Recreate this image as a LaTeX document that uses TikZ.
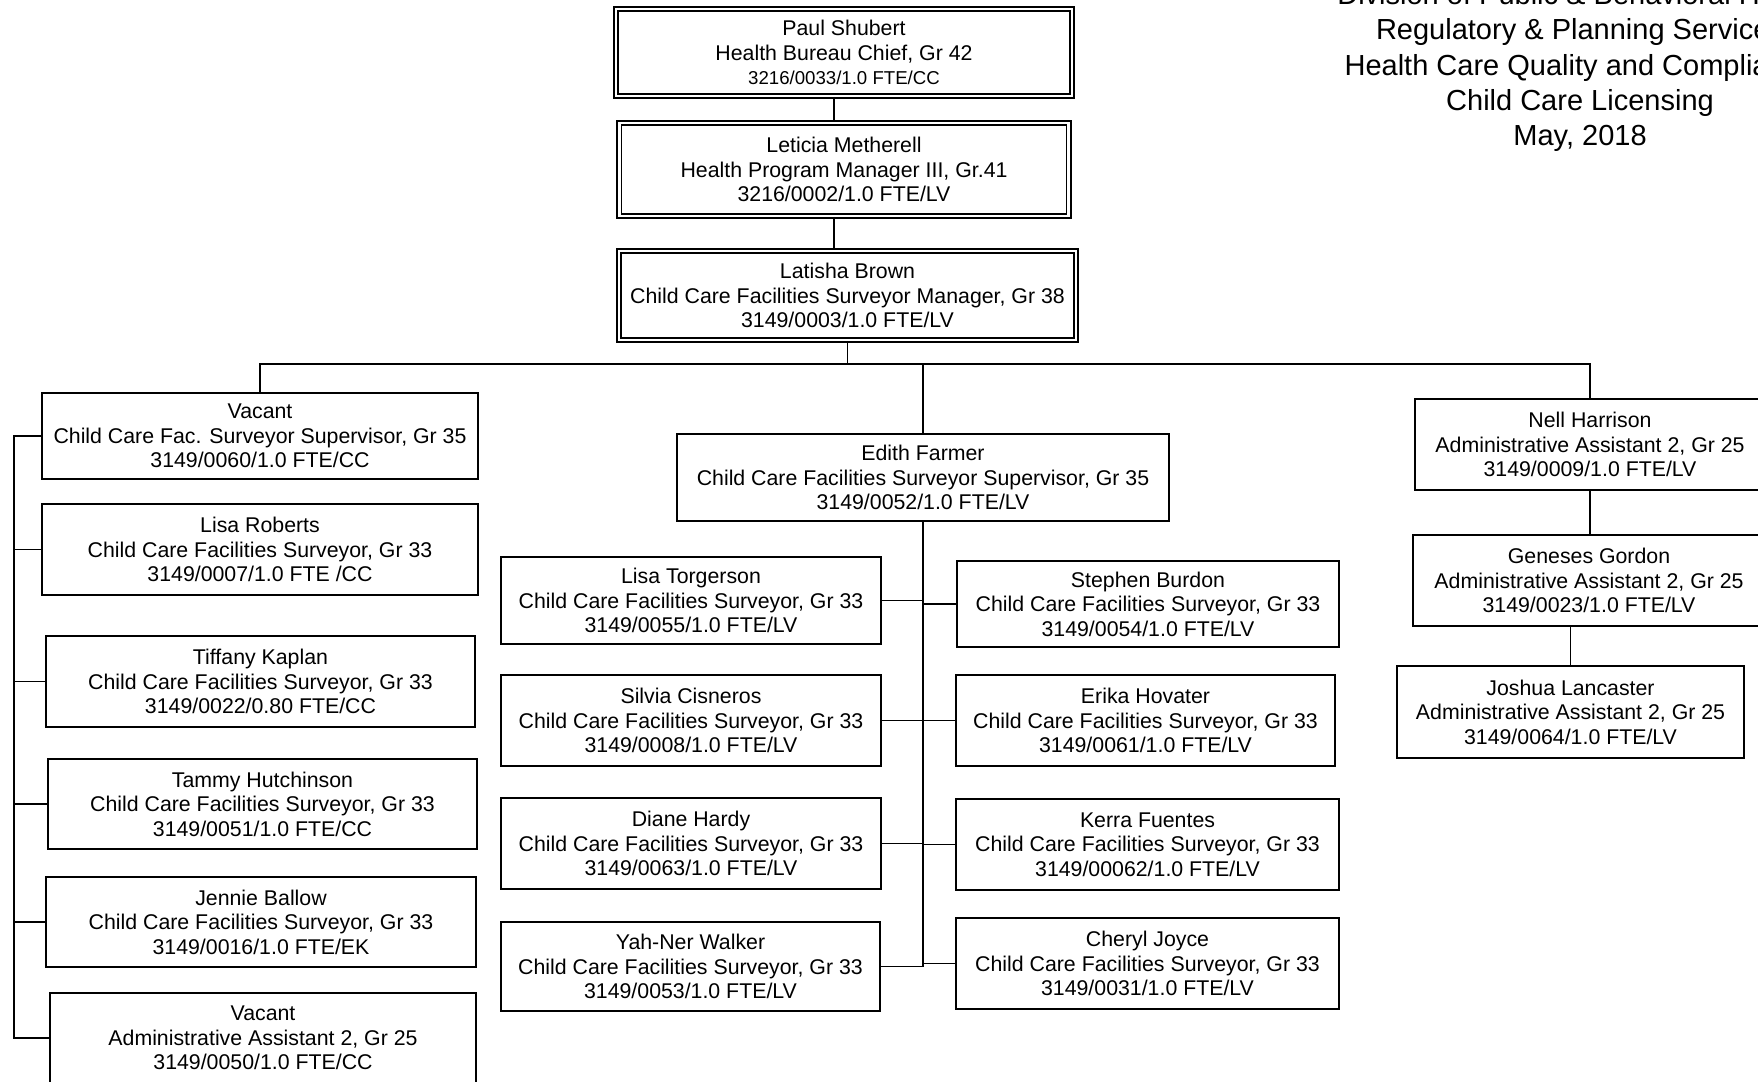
\documentclass[tikz,border=0pt]{standalone}
\usepackage{fontspec}
\setmainfont{Liberation Sans}
\usetikzlibrary{calc}

\tikzset{
	box/.style={draw, line width=0.55pt, align=center, inner sep=0pt, font=\fontsize{6.06}{6.97}\selectfont},
	dbox/.style={box, double, double distance=0.75pt, line width=0.45pt},
	link/.style={line width=0.55pt},
}
\newcommand{\posno}[1]{{\fontsize{5.3}{6.97}\selectfont #1}}

\begin{document}
\begin{tikzpicture}[x=0.01cm, y=-0.01cm]
	
		\useasboundingbox (0,0) rectangle (1758,1081);
		\clip (0,0) rectangle (1758,1081);
		
		\node[align=center, font=\fontsize{8.25}{9.96}\selectfont] (title) at (1580,67.5) {Division of Public \& Behavioral Health\\Regulatory \& Planning Services\\Health Care Quality and Compliance\\Child Care Licensing\\May, 2018};
		
		\node[dbox, minimum width=4.56cm, minimum height=0.87cm] (paul) at (844,52.5) 	{Paul Shubert\\Health Bureau Chief, Gr 42\\\posno{3216/0033/1.0 FTE/CC}};
		\node[dbox, minimum width=4.49cm, minimum height=0.93cm] (leticia) at (844,169.5) 	{Leticia Metherell\\Health Program Manager III, Gr.41\\3216/0002/1.0 FTE/LV};
		\node[dbox, minimum width=4.57cm, minimum height=0.89cm] (latisha) at (847.5,295.5) 	{Latisha Brown\\Child Care Facilities Surveyor Manager, Gr 38\\3149/0003/1.0 FTE/LV};
		
		% left column
		\node[box, minimum width=4.36cm, minimum height=0.86cm] (vacsup) at (260,436) 	{Vacant\\Child Care Fac. Surveyor Supervisor, Gr 35\\3149/0060/1.0 FTE/CC};
		\node[box, minimum width=4.36cm, minimum height=0.91cm] (roberts) at (260,549.5) 	{Lisa Roberts\\Child Care Facilities Surveyor, Gr 33\\3149/0007/1.0 FTE /CC};
		\node[box, minimum width=4.29cm, minimum height=0.91cm] (kaplan) at (260.5,681.5) 	{Tiffany Kaplan\\Child Care Facilities Surveyor, Gr 33\\3149/0022/0.80 FTE/CC};
		\node[box, minimum width=4.29cm, minimum height=0.90cm] (hutchinson) at (262.5,804) 	{Tammy Hutchinson\\Child Care Facilities Surveyor, Gr 33\\3149/0051/1.0 FTE/CC};
		\node[box, minimum width=4.30cm, minimum height=0.90cm] (ballow) at (261,922) 	{Jennie Ballow\\Child Care Facilities Surveyor, Gr 33\\3149/0016/1.0 FTE/EK};
		\node[box, minimum width=4.26cm, minimum height=0.90cm] (vacadmin) at (263,1038) 	{Vacant\\Administrative Assistant 2, Gr 25\\3149/0050/1.0 FTE/CC};
		
		% centre
		\node[box, minimum width=4.92cm, minimum height=0.87cm] (edith) at (923,477.5) 	{Edith Farmer\\Child Care Facilities Surveyor Supervisor, Gr 35\\3149/0052/1.0 FTE/LV};
		\node[box, minimum width=3.80cm, minimum height=0.87cm] (torgerson) at (691,600.5) 	{Lisa Torgerson\\Child Care Facilities Surveyor, Gr 33\\3149/0055/1.0 FTE/LV};
		\node[box, minimum width=3.80cm, minimum height=0.91cm] (cisneros) at (691,720.5) 	{Silvia Cisneros\\Child Care Facilities Surveyor, Gr 33\\3149/0008/1.0 FTE/LV};
		\node[box, minimum width=3.80cm, minimum height=0.91cm] (hardy) at (691,843.5) 	{Diane Hardy\\Child Care Facilities Surveyor, Gr 33\\3149/0063/1.0 FTE/LV};
		\node[box, minimum width=3.79cm, minimum height=0.89cm] (walker) at (690.5,966.5) 	{Yah-Ner Walker\\Child Care Facilities Surveyor, Gr 33\\3149/0053/1.0 FTE/LV};
		\node[box, minimum width=3.81cm, minimum height=0.86cm] (burdon) at (1148,604) 	{Stephen Burdon\\Child Care Facilities Surveyor, Gr 33\\3149/0054/1.0 FTE/LV};
		\node[box, minimum width=3.79cm, minimum height=0.91cm] (hovater) at (1145.5,720.5) 	{Erika Hovater\\Child Care Facilities Surveyor, Gr 33\\3149/0061/1.0 FTE/LV};
		\node[box, minimum width=3.83cm, minimum height=0.91cm] (fuentes) at (1147.5,844.5) 	{Kerra Fuentes\\Child Care Facilities Surveyor, Gr 33\\3149/00062/1.0 FTE/LV};
		\node[box, minimum width=3.83cm, minimum height=0.91cm] (joyce) at (1147.5,963.5) 	{Cheryl Joyce\\Child Care Facilities Surveyor, Gr 33\\3149/0031/1.0 FTE/LV};
		
		% right column
		\node[box, minimum width=3.50cm, minimum height=0.91cm] (nell) at (1590,444.5) 	{Nell Harrison\\Administrative Assistant 2, Gr 25\\3149/0009/1.0 FTE/LV};
		\node[box, minimum width=3.52cm, minimum height=0.91cm] (gordon) at (1589,580.5) 	{Geneses Gordon\\Administrative Assistant 2, Gr 25\\3149/0023/1.0 FTE/LV};
		\node[box, minimum width=3.47cm, minimum height=0.92cm] (lancaster) at (1570.5,712) 	{Joshua Lancaster\\Administrative Assistant 2, Gr 25\\3149/0064/1.0 FTE/LV};
		
		\coordinate (bus) at (847,364);
		\coordinate (lbus) at (14,0);
		\coordinate (spine) at (834,0);
		
		\draw [link] (paul.south -| spine) -- (leticia.north -| spine);
		\draw [link] (leticia.south -| spine) -- (latisha.north -| spine);
		\draw [link] (latisha.south) -- (latisha.south |- bus);
		\draw [link] (vacsup.north) |- (nell.north |- bus) -- (nell.north);
		\draw [link] (edith.north |- bus) -- (edith.north);
		
		\draw [link] (vacsup.west) -- (vacsup.west -| lbus) -- (vacadmin.west -| lbus) -- (vacadmin.west);
		\foreach \n in {roberts, kaplan, hutchinson, ballow}
			\draw [link] (\n.west) -- (\n.west -| lbus);
		
		\draw [link] (edith.south) -- (edith.south |- walker.east);
		\foreach \n in {torgerson, cisneros, hardy, walker}
			\draw [link] (\n.east) -- (\n.east -| edith.south);
		\foreach \n in {burdon, hovater, fuentes, joyce}
			\draw [link] (\n.west) -- (\n.west -| edith.south);
		
		\draw [link] (nell.south) -- (nell.south |- gordon.north);
		\draw [link] (lancaster.north |- gordon.south) -- (lancaster.north);
			
	\end{tikzpicture}
\end{document}
